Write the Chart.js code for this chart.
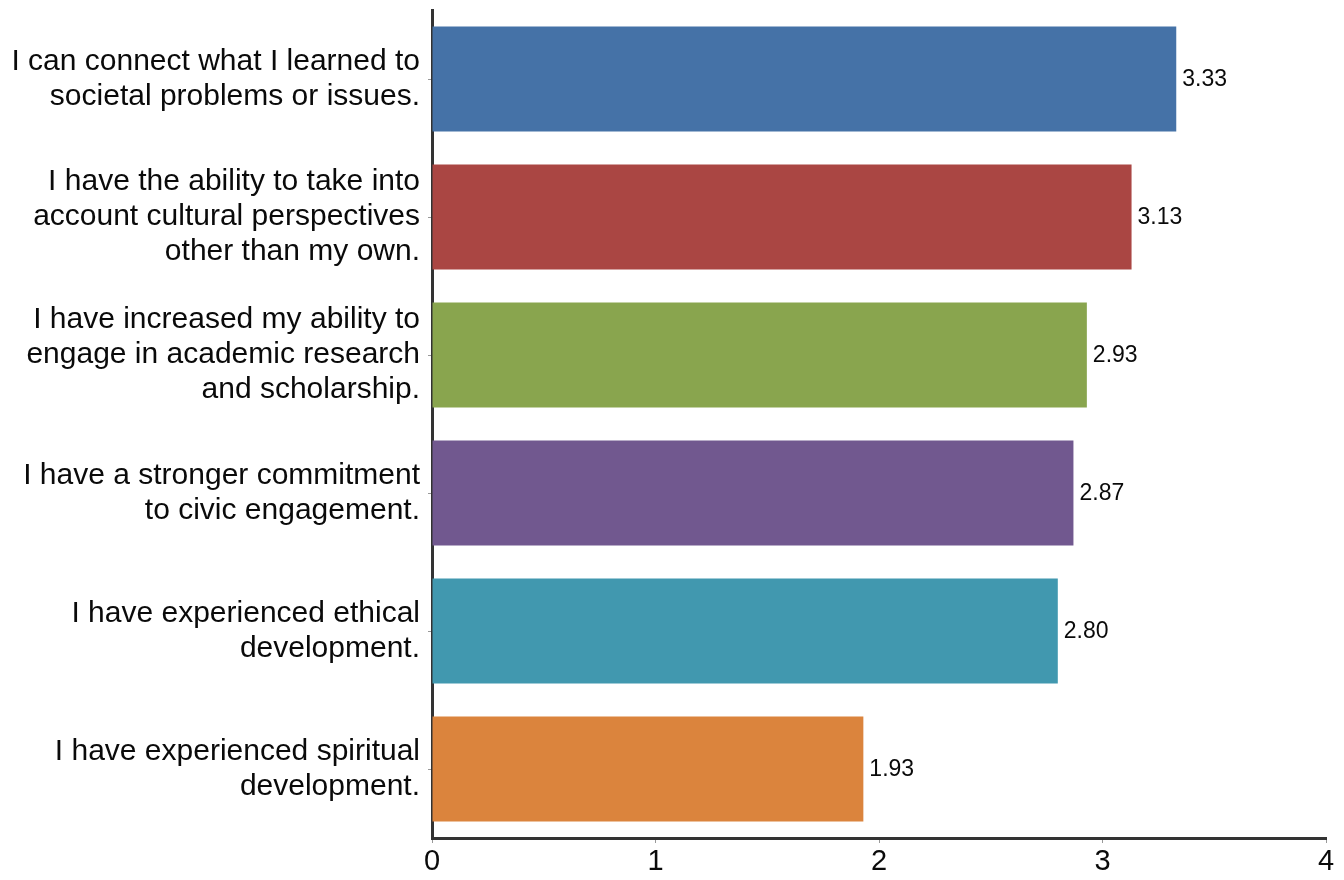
<!DOCTYPE html>
<html>
<head>
<meta charset="utf-8">
<script src="https://cdn.jsdelivr.net/npm/chart.js@4"></script>
<style>
  html, body { margin: 0; padding: 0; background: #fff; }
  #wrap { width: 1344px; height: 880px; }
</style>
</head>
<body>
<div id="wrap"><canvas id="myChart" width="1344" height="880"></canvas></div>
<script>
const categories = [
  ["I can connect what I learned to", "societal problems or issues."],
  ["I have the ability to take into", "account cultural perspectives", "other than my own."],
  ["I have increased my ability to", "engage in academic research", "and scholarship."],
  ["I have a stronger commitment", "to civic engagement."],
  ["I have experienced ethical", "development."],
  ["I have experienced spiritual", "development."]
];
const values = [3.33, 3.13, 2.93, 2.87, 2.80, 1.93];
const barColors = ["#4572a7", "#aa4643", "#89a54e", "#71588f", "#4198af", "#db843d"];
const xTicks = [0, 1, 2, 3, 4];

const chartEl = document.getElementById("myChart");
const fontFam = "Arial, 'Liberation Sans', sans-serif";

// labels on the end of each bar
const valueLabels = {
  id: "valueLabels",
  afterDatasetsDraw(chart) {
    const ctx = chart.ctx;
    const meta = chart.getDatasetMeta(0);
    ctx.save();
    ctx.font = "23px " + fontFam;
    ctx.fillStyle = "#0a0a0a";
    ctx.textAlign = "left";
    ctx.textBaseline = "middle";
    meta.data.forEach((bar, i) => {
      ctx.fillText(values[i].toFixed(2), bar.x + 6, bar.y + 1);
    });
    ctx.restore();
  }
};

const config = {
  type: "bar",
  data: {
    labels: categories,
    datasets: [{
      data: values,
      backgroundColor: barColors,
      borderWidth: 0,
      categoryPercentage: 0.76,
      barPercentage: 1.0
    }]
  },
  options: {
    indexAxis: "y",
    responsive: false,
    animation: false,
    layout: { padding: { top: 10, right: 18, left: 0, bottom: 0 } },
    plugins: {
      legend: { display: false },
      tooltip: { enabled: false }
    },
    scales: {
      x: {
        min: 0,
        max: 4,
        afterBuildTicks(scale) {
          scale.ticks = xTicks.map(v => ({ value: v }));
        },
        afterFit(scale) {
          scale.height = 42;
          scale.paddingLeft = 0;
          scale.paddingRight = 0;
        },
        grid: { drawOnChartArea: false, drawTicks: true, tickLength: 5, color: "#999" },
        border: { color: "#333", width: 3 },
        ticks: {
          color: "#0a0a0a",
          padding: 2,
          font: { family: fontFam, size: 29 }
        }
      },
      y: {
        afterFit(scale) {
          scale.width = 432;
          scale.paddingTop = 0;
          scale.paddingBottom = 0;
        },
        grid: { drawOnChartArea: false, drawTicks: true, tickLength: 4, color: "#999", offset: false },
        border: { color: "#333", width: 3 },
        ticks: {
          color: "#0a0a0a",
          padding: 8,
          font: { family: fontFam, size: 30, lineHeight: 1.17 }
        }
      }
    }
  },
  plugins: [valueLabels]
};

new Chart(chartEl, config);
</script>
</body>
</html>
